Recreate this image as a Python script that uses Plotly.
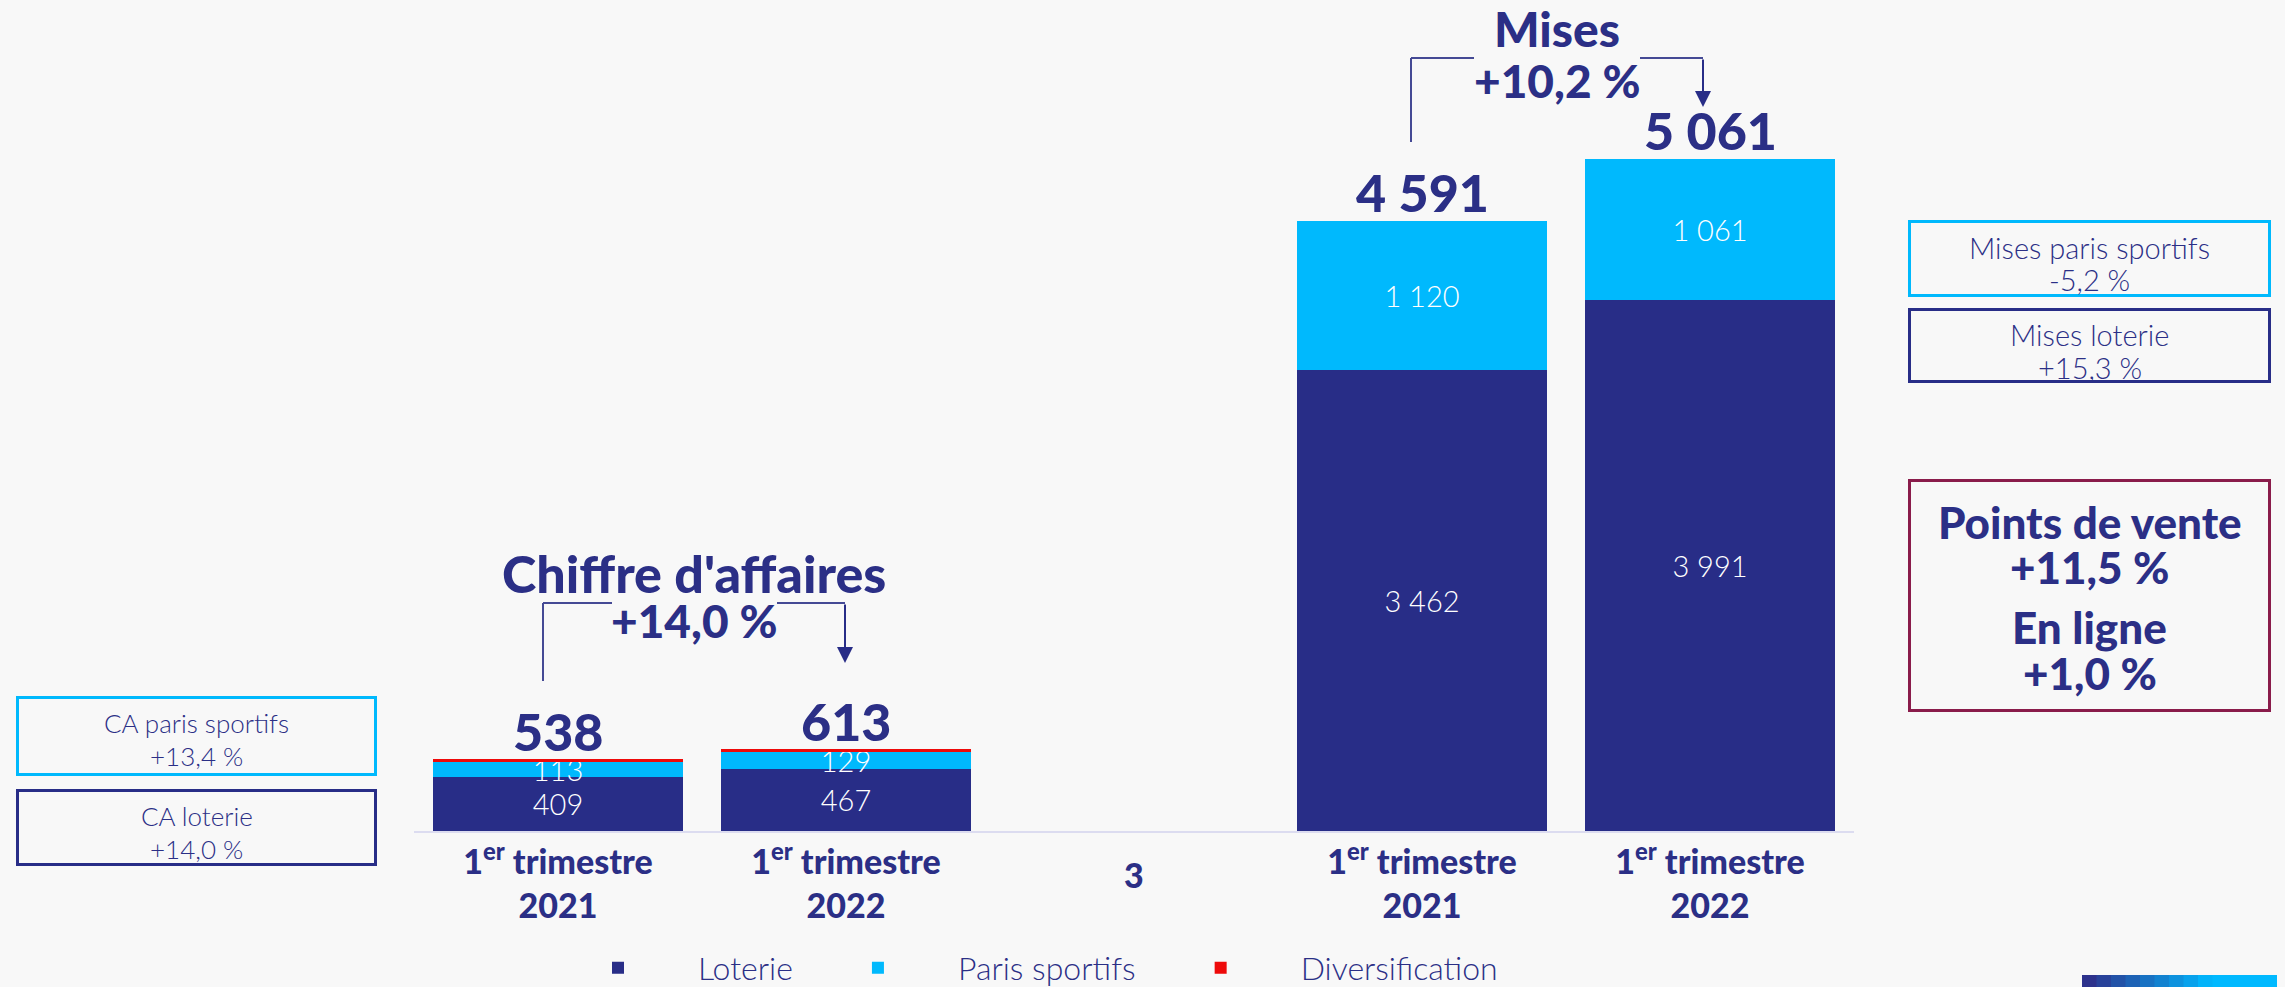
import plotly.graph_objects as go

# ---------------- data ----------------
categories = ["CA T1 2021", "CA T1 2022", "3", "Mises T1 2021", "Mises T1 2022"]
tick_labels = ["1<sup>er</sup> trimestre<br>2021", "1<sup>er</sup> trimestre<br>2022", "3",
               "1<sup>er</sup> trimestre<br>2021", "1<sup>er</sup> trimestre<br>2022"]
loterie = [409, 467, None, 3462, 3991]
paris_sportifs = [113, 129, None, 1120, 1061]
diversification = [16, 17, None, None, None]
totals = [538, 613, None, 4591, 5061]
series_names = ["Loterie", "Paris sportifs", "Diversification"]

ca_growth = ["Chiffre d'affaires", "+14,0 %"]
mises_growth = ["Mises", "+10,2 %"]
ca_boxes = [["CA paris sportifs", "+13,4 %"], ["CA loterie", "+14,0 %"]]
mises_boxes = [["Mises paris sportifs", "-5,2 %"], ["Mises loterie", "+15,3 %"]]
channel_box = [["Points de vente", "+11,5 %"], ["En ligne", "+1,0 %"]]

# ---------------- style ----------------
NAVY = "#282d87"
CYAN = "#00b9fd"
RED = "#ee0a0a"
MAROON = "#8a1c4b"
TXT = "#2b2f86"
BG = "#f8f8f8"
LINE = "#454a95"
FONT = "Lato"

OFF = 8                       # page body margin of the browser
SW, SH = 2285, 987            # screen size
W, H = SW - OFF, SH - OFF     # figure size
L, R, T, B = 414 - OFF, 431, 60 - OFF, 156
PW, PH = W - L - R, H - T - B


def px(x):   # screen x -> paper
    return (x - OFF - L) / PW


def py(y):   # screen y -> paper
    return (H - B - (y - OFF)) / PH


def fr(v):
    return f"{v:,}".replace(",", " ")


def lab(vals):
    return [fr(v) if v else "" for v in vals]


fig = go.Figure()
for name, vals, col, show in [(series_names[0], loterie, NAVY, True),
                              (series_names[1], paris_sportifs, CYAN, True),
                              (series_names[2], diversification, RED, False)]:
    fig.add_trace(go.Bar(
        name=name, x=categories, y=vals, marker=dict(color=col, line=dict(width=0)),
        text=lab(vals) if show else None,
        textposition="inside", insidetextanchor="middle", textangle=0,
        constraintext="none",
        insidetextfont=dict(family=FONT, size=29, color="white", weight=300),
        hoverinfo="skip",
    ))

ann = []
# totals above bars
for c, t in zip(categories, totals):
    if t:
        ann.append(dict(x=c, y=t, xref="x", yref="y", text=fr(t), showarrow=False,
                        yanchor="middle", yshift=28,
                        font=dict(family=FONT, size=52, color=TXT, weight=900)))

# growth headers
for txt, X, Y, s in [(ca_growth[0], 694, 573, 52), (ca_growth[1], 694, 620, 46),
                     (mises_growth[0], 1557, 29, 48), (mises_growth[1], 1557, 80, 46)]:
    ann.append(dict(x=px(X), y=py(Y), xref="paper", yref="paper", text=txt,
                    showarrow=False, xanchor="center", yanchor="middle",
                    font=dict(family=FONT, size=s, color=TXT, weight=900)))

# arrows
for X, Y0, Y1 in [(845, 603, 663), (1703, 58, 107)]:
    ann.append(dict(x=px(X), y=py(Y1), xref="paper", yref="paper", text="",
                    showarrow=True, ax=0, ay=-(Y1 - Y0), arrowhead=2, arrowsize=1.6,
                    arrowwidth=2, arrowcolor=NAVY, standoff=0))

# label "3" (vertically centred like the reference)
ann.append(dict(x=2, y=0, xref="x", yref="y", text=tick_labels[2],
                showarrow=False, yanchor="middle", yshift=-43,
                font=dict(family=FONT, size=34, color=TXT, weight=900)))

shapes = []


def box(lines, centers, x0, x1, y0, y1, col, size, weight):
    shapes.append(dict(type="rect", xref="paper", yref="paper",
                       x0=px(x0 + 1.5), x1=px(x1 - 1.5), y0=py(y0 + 1.5), y1=py(y1 - 1.5),
                       line=dict(color=col, width=3), fillcolor="rgba(0,0,0,0)"))
    for t, yc in zip(lines, centers):
        ann.append(dict(x=px((x0 + x1) / 2), y=py(yc), xref="paper", yref="paper",
                        text=t, showarrow=False, xanchor="center", yanchor="middle",
                        font=dict(family=FONT, size=size, color=TXT, weight=weight)))


box(ca_boxes[0], [723, 756], 16, 377, 696, 776, CYAN, 26, 300)
box(ca_boxes[1], [816, 849], 16, 377, 789, 866, NAVY, 26, 300)
box(mises_boxes[0], [247, 279], 1908, 2271, 220, 297, CYAN, 29, 300)
box(mises_boxes[1], [335, 367], 1908, 2271, 308, 383, NAVY, 29, 300)
box(channel_box[0] + channel_box[1], [522, 567, 627, 673], 1908, 2271, 479, 712,
    MAROON, 44, 900)

for (x0, y0, x1, y1) in [(543, 681, 543, 603), (543, 603, 612, 603), (777, 603, 845, 603),
                         (1411, 142, 1411, 58), (1411, 58, 1474, 58), (1640, 58, 1703, 58)]:
    shapes.append(dict(type="line", xref="paper", yref="paper", x0=px(x0), y0=py(y0),
                       x1=px(x1), y1=py(y1), line=dict(color=LINE, width=2)))

# decorative gradient strip bottom-right
n = 14
c0, c1 = (45, 50, 140), (0, 185, 255)
for i in range(n):
    f = min(1.0, i / (n * 0.6))
    col = "rgb(%d,%d,%d)" % tuple(round(a + (b - a) * f) for a, b in zip(c0, c1))
    xa = 2082 + (2285 - 2082) * i / n
    xb = 2082 + (2285 - 2082) * (i + 1) / n + 1
    shapes.append(dict(type="rect", xref="paper", yref="paper", x0=px(xa), x1=px(xb),
                       y0=py(987), y1=py(975), fillcolor=col, line=dict(width=0)))

fig.update_layout(
    width=W, height=H,
    margin=dict(l=L, r=R, t=T, b=B, autoexpand=False),
    paper_bgcolor=BG, plot_bgcolor=BG,
    barmode="stack", bargap=0.132,
    font=dict(family=FONT, color=TXT),
    xaxis=dict(type="category", categoryorder="array", categoryarray=categories,
               range=[-0.5, 4.5], tickmode="array", tickvals=categories,
               ticktext=[t if i != 2 else "" for i, t in enumerate(tick_labels)],
               showline=True, linecolor="#dcdcf0", linewidth=2, showgrid=False,
               zeroline=False, ticks="", ticklabelstandoff=0,
               tickfont=dict(family=FONT, size=34, color=TXT, weight=900)),
    yaxis=dict(range=[0, PH / 0.13304], visible=False, showgrid=False, zeroline=False),
    showlegend=True,
    legend=dict(orientation="h", x=px(538), xanchor="left", y=py(968), yanchor="middle",
                font=dict(family=FONT, size=32, color=TXT, weight=300),
                itemwidth=150, bgcolor="rgba(0,0,0,0)", traceorder="normal"),
    annotations=ann, shapes=shapes,
)

fig.write_html("out.html", post_script="document.body.style.background='%s';" % BG)
